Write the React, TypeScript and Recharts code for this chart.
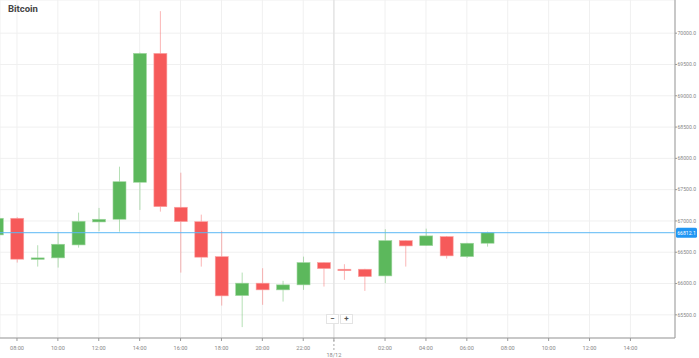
import React from 'react'
import { ComposedChart, Bar, XAxis, YAxis, CartesianGrid, ReferenceLine } from 'recharts'

// hour index: 0 = 00:00 on 17/12, 24 = 00:00 on 18/12
const hours = [7, 8, 9, 10, 11, 12, 13, 14, 15, 16, 17, 18, 19, 20, 21, 22, 23, 24, 25, 26, 27, 28, 29, 30, 31]
const opens = [66777, 67043, 66400, 66410, 66617, 66984, 67027, 67618, 69677, 67219, 66989, 66430, 65808, 66006, 65899, 65979, 66335, 66229, 66229, 66122, 66686, 66606, 66750, 66430, 66644]
const highs = [67060, 67060, 66612, 66814, 67133, 67208, 67867, 69690, 70352, 67771, 67101, 66841, 66175, 66245, 66043, 66430, 66340, 66309, 66235, 66868, 66690, 66877, 66760, 66650, 66829]
const lows = [66750, 66335, 66271, 66255, 66574, 66836, 66829, 67176, 67149, 66175, 66271, 65648, 65304, 65660, 65712, 65899, 65952, 66059, 65883, 66006, 66271, 66600, 66399, 66410, 66590]
const closes = [67043, 66389, 66410, 66628, 66995, 67027, 67627, 69677, 67228, 66989, 66421, 65803, 66006, 65899, 65979, 66335, 66239, 66219, 66111, 66686, 66601, 66761, 66442, 66644, 66812.1]

const yTicks = [65500, 66000, 66500, 67000, 67500, 68000, 68500, 69000, 69500, 70000]
const xTicks = [8, 10, 12, 14, 16, 18, 20, 22, 23.5, 26, 28, 30, 32, 34, 36, 38]
const dayLabel = '18/12'

const GREEN = '#5cb85c'
const RED = '#f65a5a'
const BLUE = '#5bb8f5'

const rows = hours.map((h, i) => ({
  hour: h,
  open: opens[i],
  high: highs[i],
  low: lows[i],
  close: closes[i],
}))
const lastClose = closes[closes.length - 1]

const Candle = (props: any) => {
  const { x, y, width, height, payload } = props
  const top = height < 0 ? y + height : y
  const h = Math.abs(height)
  const { open, close, high, low } = payload
  const up = close >= open
  const color = up ? GREEN : RED
  const px = (v: number) => top + ((high - v) / (high - low)) * h
  const bTop = px(Math.max(open, close))
  const bBot = px(Math.min(open, close))
  const cx = x + width / 2
  return (
    <g>
      <line x1={cx} x2={cx} y1={top} y2={top + h} stroke={color} strokeOpacity={0.45} strokeWidth={1} />
      <rect
        x={x}
        y={bTop}
        width={width}
        height={Math.max(bBot - bTop, 1.5)}
        fill={color}
        stroke={up ? '#9fd69f' : '#fba3a3'}
        strokeWidth={0.6}
      />
    </g>
  )
}

const XTick = (props: any) => {
  const { x, y, payload } = props
  if (payload.value === 23.5) {
    return (
      <g>
        <line x1={x} x2={x} y1={y - 3} y2={y + 8} stroke="#aaa" strokeDasharray="2 2" />
        <text x={x} y={y + 14} textAnchor="middle" fontSize={5.6} fill="#888">{dayLabel}</text>
      </g>
    )
  }
  const hh = String(payload.value % 24).padStart(2, '0')
  return (
    <text x={x} y={y + 7} textAnchor="middle" fontSize={5.6} fill="#888">{`${hh}:00`}</text>
  )
}

const PriceLabel = (props: any) => {
  const { viewBox } = props
  const lx = viewBox.x + viewBox.width + 1
  const ly = viewBox.y
  return (
    <g>
      <rect x={lx} y={ly - 5} width={21} height={10} rx={1.5} fill="#2196f3" />
      <text x={lx + 10.5} y={ly + 2} textAnchor="middle" fontSize={5.1} fill="#fff">{lastClose.toFixed(1)}</text>
    </g>
  )
}

const btn: React.CSSProperties = {
  width: 11,
  height: 8,
  border: '1px solid #e4e4e4',
  background: '#fff',
  fontSize: 8,
  lineHeight: '8px',
  textAlign: 'center',
  color: '#555',
  fontWeight: 'bold',
}

export default function App() {
  return (
    <div style={{ position: 'absolute', left: 0, top: 0, width: 699, height: 358, fontFamily: 'Roboto, sans-serif' }}>
      <ComposedChart width={699} height={358} data={rows} margin={{ top: 0, right: 0, bottom: 0, left: 0 }}>
        <CartesianGrid stroke="#f0f0f0" />
        <XAxis
          dataKey="hour"
          type="number"
          domain={[7.17, 40.18]}
          allowDataOverflow
          ticks={xTicks}
          tick={<XTick />}
          tickSize={3}
          height={20}
          stroke="#999"
          interval={0}
        />
        <YAxis
          orientation="right"
          type="number"
          domain={[65130, 70530]}
          allowDataOverflow
          ticks={yTicks}
          tickFormatter={(v: number) => v.toFixed(1)}
          tick={{ fontSize: 5.1, fill: '#888' }}
          tickSize={2}
          tickMargin={0.5}
          width={24}
          stroke="#999"
          interval={0}
        />
        <ReferenceLine x={23.5} stroke="#ddd" />
        <Bar dataKey={(d: any) => [d.low, d.high]} barSize={13} shape={<Candle />} isAnimationActive={false} />
        <ReferenceLine y={lastClose} stroke={BLUE} strokeWidth={1} label={<PriceLabel />} />
      </ComposedChart>
      <div style={{ position: 'absolute', left: 8, top: 3, fontSize: 9.5, fontWeight: 'bold', color: '#444' }}>Bitcoin</div>
      <div style={{ position: 'absolute', left: 326, top: 314, display: 'flex', gap: 1 }}>
        <div style={btn}>−</div>
        <div style={btn}>+</div>
      </div>
    </div>
  )
}
